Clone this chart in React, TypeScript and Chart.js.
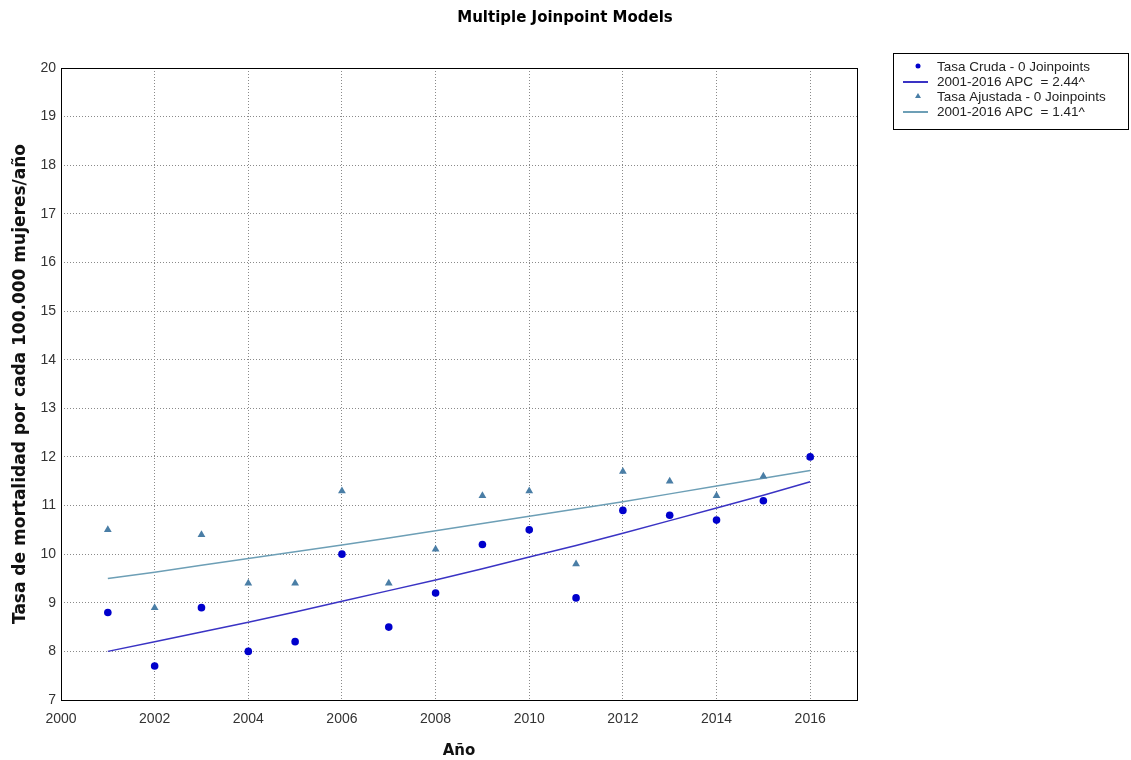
import React, { useEffect, useRef } from "react";
import { Chart, registerables } from "chart.js";

Chart.register(...registerables);

const years = [2001, 2002, 2003, 2004, 2005, 2006, 2007, 2008, 2009, 2010, 2011, 2012, 2013, 2014, 2015, 2016];
const crudeRates = [8.8, 7.7, 8.9, 8.0, 8.2, 10.0, 8.5, 9.2, 10.2, 10.5, 9.1, 10.9, 10.8, 10.7, 11.1, 12.0];
const adjustedRates = [10.5, 8.9, 10.4, 9.4, 9.4, 11.3, 9.4, 10.1, 11.2, 11.3, 9.8, 11.7, 11.5, 11.2, 11.6, 12.0];
const crudeFit = [8.0, 8.2, 8.4, 8.6, 8.81, 9.03, 9.25, 9.47, 9.7, 9.94, 10.18, 10.43, 10.69, 10.95, 11.21, 11.49];
const adjustedFit = [9.5, 9.63, 9.77, 9.91, 10.05, 10.19, 10.33, 10.48, 10.63, 10.78, 10.93, 11.08, 11.24, 11.4, 11.56, 11.72];
const xTicks = [2000, 2002, 2004, 2006, 2008, 2010, 2012, 2014, 2016];

const legendLabels = [
  "Tasa Cruda - 0 Joinpoints",
  "2001-2016 APC  = 2.44^",
  "Tasa Ajustada - 0 Joinpoints",
  "2001-2016 APC  = 1.41^",
];

const CRUDE_PT = "#0000CC";
const CRUDE_LINE = "#3a33c4";
const ADJ_PT = "#4a7ea6";
const ADJ_LINE = "#6d9fb6";

const pts = (ys: number[]) => years.map((x, i) => ({ x, y: ys[i] }));

const framePlugin = {
  id: "frameAndLegend",
  beforeDatasetsDraw(chart: any) {
    const { ctx, chartArea: a } = chart;
    ctx.save();
    ctx.strokeStyle = "#000";
    ctx.lineWidth = 1;
    ctx.strokeRect(Math.round(a.left) + 0.5, Math.round(a.top) + 0.5, Math.round(a.right - a.left), Math.round(a.bottom - a.top));
    ctx.restore();
  },
  afterDraw(chart: any) {
    const { ctx } = chart;
    ctx.save();
    // title
    ctx.fillStyle = "#000";
    ctx.font = "bold 15px 'DejaVu Sans'";
    ctx.textAlign = "center";
    ctx.textBaseline = "middle";
    ctx.fillText("Multiple Joinpoint Models", 565, 18);
    // legend box
    const bx = 893, by = 53, bw = 235, bh = 76;
    ctx.strokeStyle = "#000";
    ctx.lineWidth = 1;
    ctx.strokeRect(bx + 0.5, by + 0.5, bw, bh);
    ctx.font = "13.5px 'Liberation Sans', Arial";
    ctx.textAlign = "left";
    const rowY = [67, 82, 97, 112];
    legendLabels.forEach((t, i) => {
      const y = rowY[i];
      if (i === 0) {
        ctx.fillStyle = CRUDE_PT;
        ctx.beginPath();
        ctx.arc(918, y - 1, 2.5, 0, Math.PI * 2);
        ctx.fill();
      } else if (i === 2) {
        ctx.fillStyle = ADJ_PT;
        ctx.beginPath();
        ctx.moveTo(918, y - 4);
        ctx.lineTo(921, y + 1);
        ctx.lineTo(915, y + 1);
        ctx.closePath();
        ctx.fill();
      } else {
        ctx.strokeStyle = i === 1 ? CRUDE_LINE : ADJ_LINE;
        ctx.lineWidth = 2;
        ctx.beginPath();
        ctx.moveTo(903, y);
        ctx.lineTo(928, y);
        ctx.stroke();
      }
      ctx.fillStyle = "#222";
      ctx.fillText(t, 937, y);
    });
    ctx.restore();
  },
};

export default function App() {
  const ref = useRef<HTMLCanvasElement>(null);
  useEffect(() => {
    if (!ref.current) return;
    const chart = new Chart(ref.current, {
      type: "scatter",
      data: {
        datasets: [
          {
            label: legendLabels[1],
            data: pts(crudeFit),
            showLine: true,
            borderColor: CRUDE_LINE,
            borderWidth: 1.5,
            pointRadius: 0,
            order: 3,
          },
          {
            label: legendLabels[3],
            data: pts(adjustedFit),
            showLine: true,
            borderColor: ADJ_LINE,
            borderWidth: 1.5,
            pointRadius: 0,
            order: 4,
          },
          {
            label: legendLabels[2],
            data: pts(adjustedRates),
            pointStyle: "triangle",
            pointRadius: 4.5,
            backgroundColor: ADJ_PT,
            borderColor: ADJ_PT,
            borderWidth: 0,
            order: 2,
          },
          {
            label: legendLabels[0],
            data: pts(crudeRates),
            pointStyle: "circle",
            pointRadius: 3.8,
            backgroundColor: CRUDE_PT,
            borderColor: CRUDE_PT,
            borderWidth: 0,
            order: 1,
          },
        ],
      },
      options: {
        animation: false,
        responsive: false,
        maintainAspectRatio: false,
        layout: { padding: { top: 68, right: 274, left: 0, bottom: 0 } },
        plugins: {
          legend: { display: false },
          title: { display: false },
          tooltip: { enabled: false },
        },
        scales: {
          x: {
            type: "linear",
            min: 2000,
            max: 2017,
            afterBuildTicks: (s: any) => {
              s.ticks = xTicks.map((v) => ({ value: v }));
            },
            afterFit: (s: any) => {
              s.height = 60;
            },
            grid: { color: "#8a8a8a", drawTicks: false },
            border: { display: false, dash: [1, 2] },
            ticks: {
              padding: 11,
              color: "#333",
              font: { family: "'Liberation Sans', Arial", size: 14 },
              callback: (v: any) => String(v),
            },
            title: {
              display: true,
              text: "Año",
              color: "#111",
              font: { family: "'DejaVu Sans'", size: 15, weight: "bold" },
              padding: { top: 0, bottom: 0 },
            },
          },
          y: {
            type: "linear",
            min: 7,
            max: 20,
            afterFit: (s: any) => {
              s.width = 61;
            },
            grid: { color: "#8a8a8a", drawTicks: false },
            border: { display: false, dash: [1, 2] },
            ticks: {
              stepSize: 1,
              padding: 5,
              color: "#333",
              font: { family: "'Liberation Sans', Arial", size: 14 },
            },
            title: {
              display: true,
              text: "Tasa de mortalidad por cada 100.000 mujeres/año",
              color: "#111",
              font: { family: "'DejaVu Sans'", size: 17, weight: "bold" },
              padding: { top: 10, bottom: 0 },
            },
          },
        },
      },
      plugins: [framePlugin],
    } as any);
    return () => chart.destroy();
  }, []);
  return (
    <div style={{ position: "fixed", left: 0, top: 0, width: 1131, height: 760, background: "#fff" }}>
      <canvas ref={ref} width={1131} height={760} style={{ display: "block" }} />
    </div>
  );
}
